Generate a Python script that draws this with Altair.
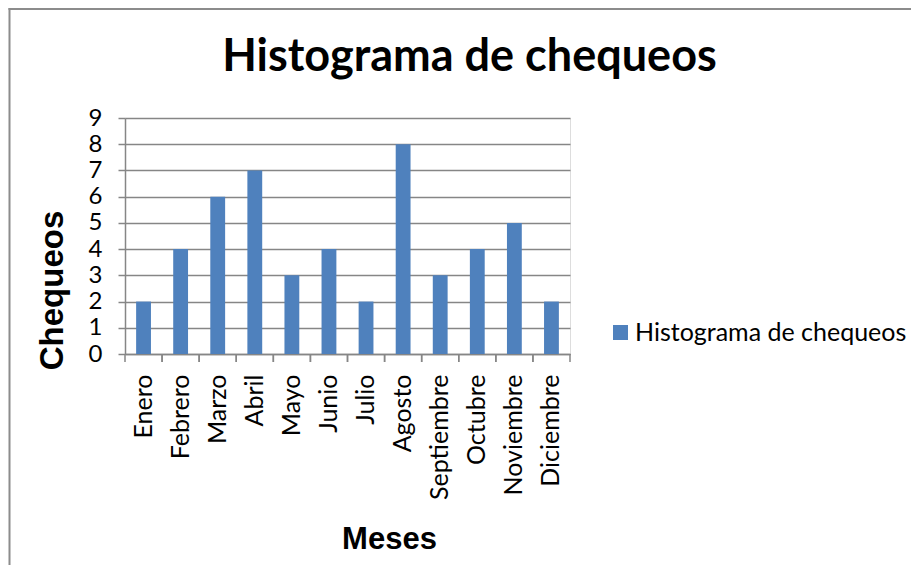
import altair as alt
import pandas as pd

meses = ["Enero", "Febrero", "Marzo", "Abril", "Mayo", "Junio", "Julio",
         "Agosto", "Septiembre", "Octubre", "Noviembre", "Diciembre"]
chequeos = [2, 4, 6, 7, 3, 4, 2, 8, 3, 4, 5, 2]
serie = "Histograma de chequeos"
y_ticks = [0, 1, 2, 3, 4, 5, 6, 7, 8, 9]

df = pd.DataFrame({"mes": meses, "chequeos": chequeos, "serie": [serie] * len(meses)})

GRAY = "#868686"
BLUE = "#4F81BD"
LABEL_FONT = "Lato"
TITLE_FONT = "Liberation Sans"

x_scale = alt.Scale(domain=meses, paddingInner=0, paddingOuter=0)

bars = alt.Chart(df).mark_bar(width=alt.RelativeBandSize(0.4), color=BLUE).encode(
    x=alt.X("mes:N", sort=meses, scale=x_scale,
            axis=alt.Axis(title="Meses", labelAngle=270, labelFont=LABEL_FONT,
                          labelFontSize=25, labelColor="black", labelPadding=20,
                          ticks=False, domainColor=GRAY, domainWidth=1.5,
                          titleFont=TITLE_FONT, titleFontSize=31, titleFontWeight="bold",
                          titleColor="black", titleX=264, titleY=194,
                          titleAlign="center", titleBaseline="alphabetic")),
    y=alt.Y("chequeos:Q", scale=alt.Scale(domain=[0, 9], nice=False),
            axis=alt.Axis(title="Chequeos", values=y_ticks, labelFont=LABEL_FONT,
                          labelFontSize=24, labelColor="black", labelPadding=16,
                          tickSize=7, tickColor=GRAY, tickWidth=1.5,
                          domainColor=GRAY, domainWidth=1.5,
                          grid=True, gridColor=GRAY, gridWidth=1.5,
                          titleFont=TITLE_FONT, titleFontSize=33, titleFontWeight="bold",
                          titleColor="black", titleX=-63, titleY=172, titleAngle=270,
                          titleAlign="center", titleBaseline="alphabetic")),
    color=alt.Color("serie:N", scale=alt.Scale(range=[BLUE]),
                    legend=alt.Legend(title=None, orient="none", legendX=483, legendY=202,
                                      symbolType="square", symbolSize=225,
                                      symbolStrokeWidth=0, labelFont=LABEL_FONT,
                                      labelFontSize=25, labelColor="black",
                                      labelOffset=2, labelLimit=400)),
)

ticks_start = alt.Chart(df).mark_rule(color=GRAY, strokeWidth=1.5).encode(
    x=alt.X("mes:N", sort=meses, scale=x_scale, bandPosition=0),
    y=alt.value(236), y2=alt.value(244),
)
ticks_end = alt.Chart(df).mark_rule(color=GRAY, strokeWidth=1.5).encode(
    x=alt.X("mes:N", sort=meses, scale=x_scale, bandPosition=1),
    y=alt.value(236), y2=alt.value(244),
)

frame_df = pd.DataFrame({"k": [0]})
frame_left = alt.Chart(frame_df).mark_rule(color="#8c8c8c", strokeWidth=2).encode(
    x=alt.value(-115.5), y=alt.value(-110), y2=alt.value(460),
)
frame_top = alt.Chart(frame_df).mark_rule(color="#8c8c8c", strokeWidth=2).encode(
    x=alt.value(-116.5), x2=alt.value(800), y=alt.value(-109),
)

chart = alt.layer(frame_left, frame_top, bars, ticks_start, ticks_end).properties(
    width=445, height=236,
    title=alt.TitleParams("Histograma de chequeos", font=LABEL_FONT, fontSize=45,
                          fontWeight="bold", color="black", anchor="middle",
                          baseline="alphabetic", dx=122, dy=109, offset=0),
    padding={"left": 117, "top": 110, "right": 341, "bottom": 211},
    autosize=alt.AutoSizeParams(type="none"),
).configure_view(stroke=None).configure(background="white")

chart.save("out.html", embed_options={"renderer": "svg", "actions": False})
